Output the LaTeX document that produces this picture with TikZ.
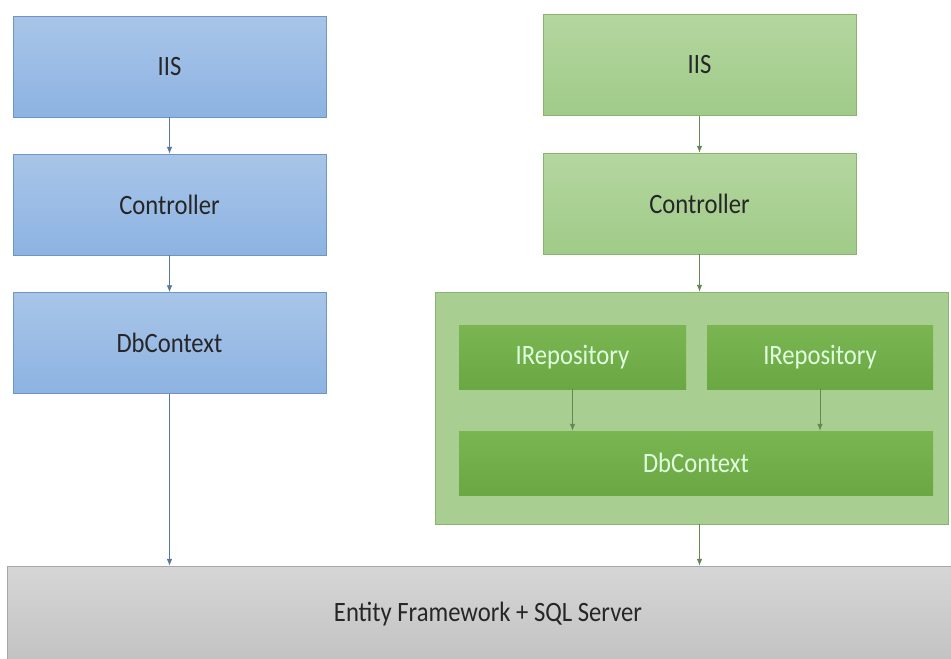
\documentclass[tikz,border=0pt]{standalone}
\usepackage{fontspec}
\setmainfont{Carlito}[FakeStretch=0.88]
\usetikzlibrary{arrows.meta,shadings}

\definecolor{bluefill}{HTML}{A8C5E8}
\definecolor{bluebot}{HTML}{8DB3E2}
\definecolor{blueline}{HTML}{6E95C6}
\definecolor{greenfill}{HTML}{B4D6A0}
\definecolor{greenbot}{HTML}{A0CB88}
\definecolor{greenline}{HTML}{88B46E}
\definecolor{repoback}{HTML}{A9CE91}
\definecolor{repofill}{HTML}{7AB551}
\definecolor{repobot}{HTML}{6AA843}
\definecolor{greytop}{HTML}{D6D6D6}
\definecolor{greybot}{HTML}{C2C2C2}

\tikzset{
  boxfont/.style={font=\fontsize{28}{30}\selectfont},
  bluebox/.style={draw=blueline, top color=bluefill, bottom color=bluebot, minimum width=313pt, minimum height=101pt, text=black!85, boxfont},
  greenbox/.style={draw=greenline, top color=greenfill, bottom color=greenbot, minimum width=313pt, minimum height=101pt, text=black!85, boxfont},
  repobox/.style={draw=none, top color=repofill, bottom color=repobot, minimum height=64pt, text=white!88!green, boxfont},
  flow/.style={-{Latex[length=7pt,width=5.5pt]}, line width=0.8pt}
}

\begin{document}
\begin{tikzpicture}[x=1pt, y=-1pt]
      \clip (0,0) rectangle (951,659);
      \fill[white] (0,0) rectangle (951,659);
      %left column
      \node[bluebox] (iisl) at (169.5, 66.5) {IIS};
      \node[bluebox] (ctrll) at (169.5, 204.5) {Controller};
      \node[bluebox] (dbl) at (169.5, 343) {DbContext};
      %right column
      \node[greenbox] (iisr) at (699.5, 65) {IIS};
      \node[greenbox] (ctrlr) at (699.5, 203.5) {Controller};
      \node[draw=greenline, fill=repoback, minimum width=513pt, minimum height=232pt] (repos) at (691.5, 408) {};
      \node[repobox, minimum width=227pt] (repoa) at (572.5, 357) {IRepository};
      \node[repobox, minimum width=226pt] (repob) at (820, 357) {IRepository};
      \node[repobox, minimum width=474pt] (dbr) at (696, 463) {DbContext};
      %storage
      \node[draw=black!35, top color=greytop, bottom color=greybot, minimum width=948pt, minimum height=97pt] (ef) at (481, 614.5) {};
      \node[text=black!85, boxfont] (eftext) at (488, 614) {Entity Framework + SQL Server};

      \draw[flow, blueline!80!black] (iisl) -- (ctrll);
      \draw[flow, blueline!80!black] (ctrll) -- (dbl);
      \draw[flow, blueline!80!black] (dbl.south) -- (dbl.south |- ef.north);
      \draw[flow, greenline!75!black] (iisr) -- (ctrlr);
      \draw[flow, greenline!75!black] (ctrlr.south) -- (ctrlr.south |- repos.north);
      \draw[flow, greenline!75!black] (repoa.south) -- (repoa.south |- dbr.north);
      \draw[flow, greenline!75!black] (repob.south) -- (repob.south |- dbr.north);
      \draw[flow, greenline!75!black] (ctrlr.south |- repos.south) -- (ctrlr.south |- ef.north);
\end{tikzpicture}
\end{document}
